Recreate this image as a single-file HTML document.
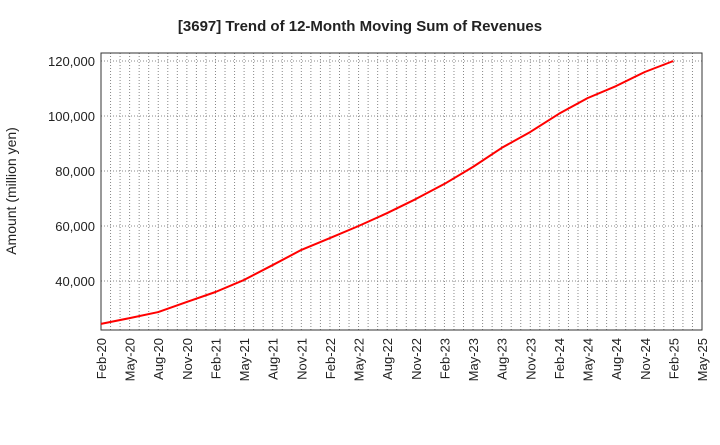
<!DOCTYPE html>
<html><head><meta charset="utf-8"><style>
body{margin:0;background:#fff;font-family:"Liberation Sans",sans-serif}
</style></head><body>
<svg id="chart" width="720" height="440" xmlns="http://www.w3.org/2000/svg">
<text x="360" y="31" text-anchor="middle" font-size="15" font-weight="bold" fill="#222">[3697]  Trend of 12-Month Moving Sum of Revenues</text>
<text transform="translate(19,191) rotate(-90)" text-anchor="middle" font-size="14" fill="#222" dy="-3">Amount (million yen)</text>
</svg>
<script>
const categories=["Feb-20","May-20","Aug-20","Nov-20","Feb-21","May-21","Aug-21","Nov-21","Feb-22","May-22","Aug-22","Nov-22","Feb-23","May-23","Aug-23","Nov-23","Feb-24","May-24","Aug-24","Nov-24","Feb-25"];
const revenues=[24400,26500,28700,32400,36000,40400,45800,51300,55600,60000,64700,69800,75300,81500,88400,94200,100800,106500,110900,116000,120000];
const xTickLabels=["Feb-20","May-20","Aug-20","Nov-20","Feb-21","May-21","Aug-21","Nov-21","Feb-22","May-22","Aug-22","Nov-22","Feb-23","May-23","Aug-23","Nov-23","Feb-24","May-24","Aug-24","Nov-24","Feb-25","May-25"];
const yTicks=[40000,60000,80000,100000,120000];

const L=101,R=702,T=53,B=330,MONTHS=63,YMIN=22182,YMAX=122909;
const svg=document.getElementById('chart');
const NS="http://www.w3.org/2000/svg";
function x(m){return L+(R-L)*m/MONTHS;}
function y(v){return B-(B-T)*(v-YMIN)/(YMAX-YMIN);}
function mk(tag,attrs){const e=document.createElementNS(NS,tag);for(const k in attrs)e.setAttribute(k,attrs[k]);svg.appendChild(e);return e;}

for(let m=1;m<MONTHS;m++){
  const g=mk('line',{x1:x(m),x2:x(m),y1:T,y2:B,stroke:'#888','stroke-dasharray':'1,2','stroke-width':1});
  
  
}
yTicks.forEach(v=>{
  const g=mk('line',{x1:L,x2:R,y1:y(v),y2:y(v),stroke:'#888','stroke-dasharray':'1,2','stroke-width':1});
  
  
  const t=mk('text',{x:L-6,y:y(v)+5,'text-anchor':'end','font-size':'13',fill:'#222'});
  t.textContent=v.toLocaleString('en-US');
  
  
});
const frame=mk('rect',{x:L,y:T,width:R-L,height:B-T,fill:'none',stroke:'#333','stroke-width':1});



xTickLabels.forEach((lab,i)=>{
  const xx=x(i*3);
  const t=mk('text',{transform:`translate(${xx+5},${B+8}) rotate(-90)`,'text-anchor':'end','font-size':'13',fill:'#222'});
  t.textContent=lab;
  
  
});

const pts=revenues.map((v,i)=>x(i*3)+','+y(v)).join(' ');
const line=mk('polyline',{points:pts,fill:'none',stroke:'#ff0000','stroke-width':2,'stroke-linejoin':'round'});


</script>
</body></html>
